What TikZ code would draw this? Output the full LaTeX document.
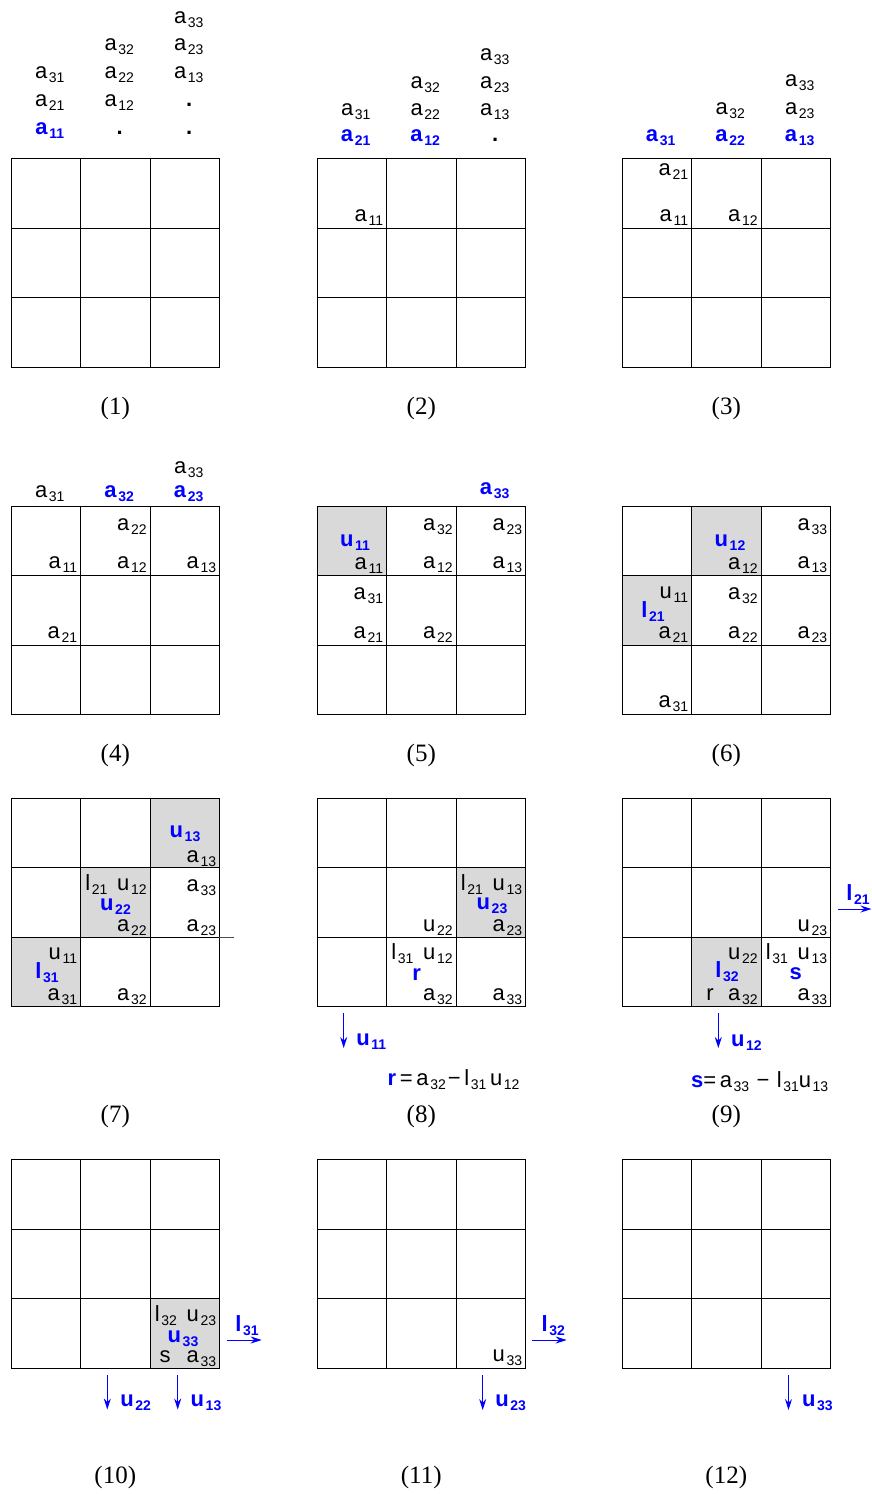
\documentclass[tikz,border=0pt]{standalone}
\usepackage{fontspec}
\setmainfont{Liberation Sans}
\newfontfamily\capfont{Liberation Serif}
\usetikzlibrary{arrows.meta}

% entry with subscript, normal and bold
\newcommand{\ent}[2]{#1\kern0.8pt\raisebox{-2.2pt}{\fontsize{7}{8}\selectfont #2}}
\newcommand{\bent}[2]{\textbf{#1}\kern0.8pt\raisebox{-2.2pt}{\fontsize{7}{8}\selectfont\bfseries #2}}

\begin{document}
\begin{tikzpicture}[x=0.5pt, y=-0.5pt,
            gridline/.style={line width=0.5pt, line cap=rect},
            pivotcell/.style={fill=black!15},
            ent/.style={anchor=base east, inner sep=0pt, font=\fontsize{11}{13}\selectfont},
            entl/.style={anchor=base west, inner sep=0pt, font=\fontsize{11}{13}\selectfont},
            col/.style={anchor=base, inner sep=0pt, font=\fontsize{11}{13}\selectfont},
            piv/.style={anchor=base, inner sep=0pt, text=blue, font=\fontsize{11}{13}\selectfont},
            arrlab/.style={anchor=base west, inner sep=0pt, text=blue, font=\fontsize{11}{13}\selectfont},
            darr/.style={blue, line width=0.5pt, -{Stealth[length=5.5pt, width=3.5pt]}},
            caption/.style={font=\capfont\fontsize{12.5}{14}\selectfont}]
            \useasboundingbox (0,0) rectangle (872,1494);
            % Shaded cells
            \fill[pivotcell] (317,506) rectangle ++(69.5,69.5);
            \fill[pivotcell] (691.5,506) rectangle ++(69.5,69.5);
            \fill[pivotcell] (622,575.5) rectangle ++(69.5,69.5);
            \fill[pivotcell] (150,798) rectangle ++(69.5,69.5);
            \fill[pivotcell] (80.5,867.5) rectangle ++(69.5,69.5);
            \fill[pivotcell] (11,937) rectangle ++(69.5,69.5);
            \fill[pivotcell] (456,867.5) rectangle ++(69.5,69.5);
            \fill[pivotcell] (691.5,937) rectangle ++(69.5,69.5);
            \fill[pivotcell] (150,1298.5) rectangle ++(69.5,69.5);
            % Grids and step numbers
            \foreach \gx/\gy/\ly [count=\k] in {11/158.5/408, 317/158.5/408, 622/158.5/408,
                11/506/755, 317/506/755, 622/506/755, 11/798/1116, 317/798/1116, 622/798/1116,
                11/1159.5/1477, 317/1159.5/1477, 622/1159.5/1477} {
                \foreach \i in {0,...,3} {
                    \draw[gridline] (\gx+\i*69.5,\gy) -- (\gx+\i*69.5,\gy+208.5);
                    \draw[gridline] (\gx,\gy+\i*69.5) -- (\gx+208.5,\gy+\i*69.5);
                }
                \node[caption] (cap\k) at (\gx+104.25,\ly) {(\k)};
            }
            \draw[gridline, black!70] (219.5,937) -- (233.5,937);
            % Step 1
            \node[col] (p1a31) at (49.75,78) {\ent{a}{31}};
            \node[col] (p1a21) at (49.75,106) {\ent{a}{21}};
            \node[col, blue] (p1a11) at (49.75,134) {\bent{a}{11}};
            \node[col] (p1a32) at (119.25,50.5) {\ent{a}{32}};
            \node[col] (p1a22) at (119.25,78) {\ent{a}{22}};
            \node[col] (p1a12) at (119.25,106) {\ent{a}{12}};
            \node[col] (p1d2) at (119.75,134) {\textbf{.}};
            \node[col] (p1a33) at (188.75,23) {\ent{a}{33}};
            \node[col] (p1a23) at (188.75,50.5) {\ent{a}{23}};
            \node[col] (p1a13) at (188.75,78) {\ent{a}{13}};
            \node[col] (p1d3a) at (189.25,106) {\textbf{.}};
            \node[col] (p1d3b) at (189.25,134) {\textbf{.}};
            % Step 2
            \node[col] (p2a31) at (355.75,115) {\ent{a}{31}};
            \node[col, blue] (p2a21) at (355.75,141) {\bent{a}{21}};
            \node[col] (p2a32) at (425.25,88) {\ent{a}{32}};
            \node[col] (p2a22) at (425.25,115) {\ent{a}{22}};
            \node[col, blue] (p2a12) at (425.25,141) {\bent{a}{12}};
            \node[col] (p2a33) at (494.75,60) {\ent{a}{33}};
            \node[col] (p2a23) at (494.75,88) {\ent{a}{23}};
            \node[col] (p2a13) at (494.75,115) {\ent{a}{13}};
            \node[col] (p2d3) at (495.25,141) {\textbf{.}};
            \node[ent] (p2a11) at (383.5,221) {\ent{a}{11}};
            % Step 3
            \node[col, blue] (p3a31) at (660.75,141) {\bent{a}{31}};
            \node[col] (p3a32) at (730.25,114) {\ent{a}{32}};
            \node[col, blue] (p3a22) at (730.25,141) {\bent{a}{22}};
            \node[col] (p3a33) at (799.75,86) {\ent{a}{33}};
            \node[col] (p3a23) at (799.75,114) {\ent{a}{23}};
            \node[col, blue] (p3a13) at (799.75,141) {\bent{a}{13}};
            \node[ent] (p3a21) at (688.5,175) {\ent{a}{21}};
            \node[ent] (p3a11) at (688.5,221) {\ent{a}{11}};
            \node[ent] (p3a12) at (758,221) {\ent{a}{12}};
            % Step 4
            \node[col] (p4a31) at (49.75,497) {\ent{a}{31}};
            \node[col, blue] (p4a32) at (119.25,497) {\bent{a}{32}};
            \node[col] (p4a33) at (188.75,473) {\ent{a}{33}};
            \node[col, blue] (p4a23) at (188.75,497) {\bent{a}{23}};
            \node[ent] (p4a22) at (147,530) {\ent{a}{22}};
            \node[ent] (p4a11) at (77.5,568.5) {\ent{a}{11}};
            \node[ent] (p4a12) at (147,568.5) {\ent{a}{12}};
            \node[ent] (p4a13) at (216.5,568.5) {\ent{a}{13}};
            \node[ent] (p4a21) at (77.5,638) {\ent{a}{21}};
            % Step 5
            \node[col, blue] (p5a33) at (494.75,494) {\bent{a}{33}};
            \node[piv] (p5u11) at (355,546) {\bent{u}{11}};
            \node[ent] (p5a11) at (383.5,569.5) {\ent{a}{11}};
            \node[ent] (p5a32) at (453,530) {\ent{a}{32}};
            \node[ent] (p5a12) at (453,568.5) {\ent{a}{12}};
            \node[ent] (p5a23) at (522.5,530) {\ent{a}{23}};
            \node[ent] (p5a13) at (522.5,568.5) {\ent{a}{13}};
            \node[ent] (p5a31) at (383.5,599) {\ent{a}{31}};
            \node[ent] (p5a21) at (383.5,638) {\ent{a}{21}};
            \node[ent] (p5a22) at (453,638) {\ent{a}{22}};
            % Step 6
            \node[piv] (p6u12) at (730,546) {\bent{u}{12}};
            \node[ent] (p6a12) at (758,569.5) {\ent{a}{12}};
            \node[ent] (p6a33) at (827.5,530) {\ent{a}{33}};
            \node[ent] (p6a13) at (827.5,568.5) {\ent{a}{13}};
            \node[ent] (p6u11) at (688.5,598) {\ent{u}{11}};
            \node[piv] (p6l21) at (653,617) {\bent{l}{21}};
            \node[ent] (p6a21) at (688.5,638.5) {\ent{a}{21}};
            \node[ent] (p6a32) at (758,599) {\ent{a}{32}};
            \node[ent] (p6a22) at (758,638) {\ent{a}{22}};
            \node[ent] (p6a23) at (827.5,638) {\ent{a}{23}};
            \node[ent] (p6a31) at (688.5,707.5) {\ent{a}{31}};
            % Step 7
            \node[piv] (p7u13) at (185,837) {\bent{u}{13}};
            \node[ent] (p7a13) at (216.5,862) {\ent{a}{13}};
            \node[entl] (p7l21) at (85,890) {\ent{l}{21}};
            \node[ent] (p7u12) at (147,890) {\ent{u}{12}};
            \node[piv] (p7u22) at (115.5,910) {\bent{u}{22}};
            \node[ent] (p7a22) at (147,931.5) {\ent{a}{22}};
            \node[ent] (p7a33) at (216.5,891) {\ent{a}{33}};
            \node[ent] (p7a23) at (216.5,931) {\ent{a}{23}};
            \node[ent] (p7u11) at (77.5,959.5) {\ent{u}{11}};
            \node[piv] (p7l31) at (47,978.5) {\bent{l}{31}};
            \node[ent] (p7a31) at (77.5,1000.5) {\ent{a}{31}};
            \node[ent] (p7a32) at (147,1000) {\ent{a}{32}};
            % Step 8
            \node[ent] (p8u22) at (453,931) {\ent{u}{22}};
            \node[entl] (p8l21) at (460.5,890) {\ent{l}{21}};
            \node[ent] (p8u13) at (522.5,890) {\ent{u}{13}};
            \node[piv] (p8u23) at (492,909) {\bent{u}{23}};
            \node[ent] (p8a23) at (522.5,931.5) {\ent{a}{23}};
            \node[entl] (p8l31) at (391,959.5) {\ent{l}{31}};
            \node[ent] (p8u12) at (453,959.5) {\ent{u}{12}};
            \node[piv] (p8r) at (416.7,980) {\textbf{r}};
            \node[ent] (p8a32) at (453,1000.5) {\ent{a}{32}};
            \node[ent] (p8a33) at (522.5,1000) {\ent{a}{33}};
            \coordinate (p8top) at (343.7,1013);
            \coordinate (p8bot) at (343.7,1048);
            \draw[darr] (p8top) -- (p8bot);
            \node[arrlab] (p8u11) at (356,1045.5) {\bent{u}{11}};
            \node[entl] (p8eq) at (387.3,1085) {{\color{blue}\bfseries r}\,=\,\ent{a}{32}\kern1pt−\,\ent{l}{31}\,\ent{u}{12}};
            % Step 9
            \node[ent] (p9u23) at (827.5,931) {\ent{u}{23}};
            \node[ent] (p9u22) at (758,959.5) {\ent{u}{22}};
            \node[piv] (p9l32) at (727,977) {\bent{l}{32}};
            \node[entl] (p9r) at (706,1000.5) {r};
            \node[ent] (p9a32) at (758,1000.5) {\ent{a}{32}};
            \node[entl] (p9l31) at (765.5,959.5) {\ent{l}{31}};
            \node[ent] (p9u13) at (827.5,959.5) {\ent{u}{13}};
            \node[piv] (p9s) at (795.7,979) {\textbf{s}};
            \node[ent] (p9a33) at (827.5,1000.5) {\ent{a}{33}};
            \coordinate (p9top) at (718.3,1013);
            \coordinate (p9bot) at (718.3,1048);
            \draw[darr] (p9top) -- (p9bot);
            \node[arrlab] (p9u12) at (730.7,1046.5) {\bent{u}{12}};
            \coordinate (p9from) at (837.7,909);
            \coordinate (p9to) at (871.5,909);
            \draw[darr] (p9from) -- (p9to);
            \node[piv] (p9l21) at (858,900) {\bent{l}{21}};
            \node[entl] (p9eq) at (690.7,1087) {{\color{blue}\bfseries s}=\,\ent{a}{33}\,\,−\,\,\ent{l}{31}\ent{u}{13}};
            % Step 10
            \node[entl] (p10l32) at (154.5,1321) {\ent{l}{32}};
            \node[ent] (p10u23) at (216.5,1321) {\ent{u}{23}};
            \node[piv] (p10u33) at (183,1342) {\bent{u}{33}};
            \node[entl] (p10s) at (159.3,1362) {s};
            \node[ent] (p10a33) at (216.5,1362) {\ent{a}{33}};
            \coordinate (p10atop) at (107.3,1375);
            \coordinate (p10abot) at (107.3,1409.5);
            \draw[darr] (p10atop) -- (p10abot);
            \node[arrlab] (p10u22) at (120,1406.5) {\bent{u}{22}};
            \coordinate (p10btop) at (177.7,1375);
            \coordinate (p10bbot) at (177.7,1409.5);
            \draw[darr] (p10btop) -- (p10bbot);
            \node[arrlab] (p10u13) at (190.3,1406.5) {\bent{u}{13}};
            \coordinate (p10from) at (226.7,1340);
            \coordinate (p10to) at (261.7,1340);
            \draw[darr] (p10from) -- (p10to);
            \node[piv] (p10l31) at (247,1331.5) {\bent{l}{31}};
            % Step 11
            \node[ent] (p11u33) at (522.5,1361.5) {\ent{u}{33}};
            \coordinate (p11top) at (482.7,1375);
            \coordinate (p11bot) at (482.7,1410);
            \draw[darr] (p11top) -- (p11bot);
            \node[arrlab] (p11u23) at (495,1406.5) {\bent{u}{23}};
            \coordinate (p11from) at (532.3,1340);
            \coordinate (p11to) at (566.7,1340);
            \draw[darr] (p11from) -- (p11to);
            \node[piv] (p11l32) at (553.3,1331.5) {\bent{l}{32}};
            % Step 12
            \coordinate (p12top) at (788.5,1375);
            \coordinate (p12bot) at (788.5,1410);
            \draw[darr] (p12top) -- (p12bot);
            \node[arrlab] (p12u33) at (801.7,1406.5) {\bent{u}{33}};
\end{tikzpicture}
\end{document}
